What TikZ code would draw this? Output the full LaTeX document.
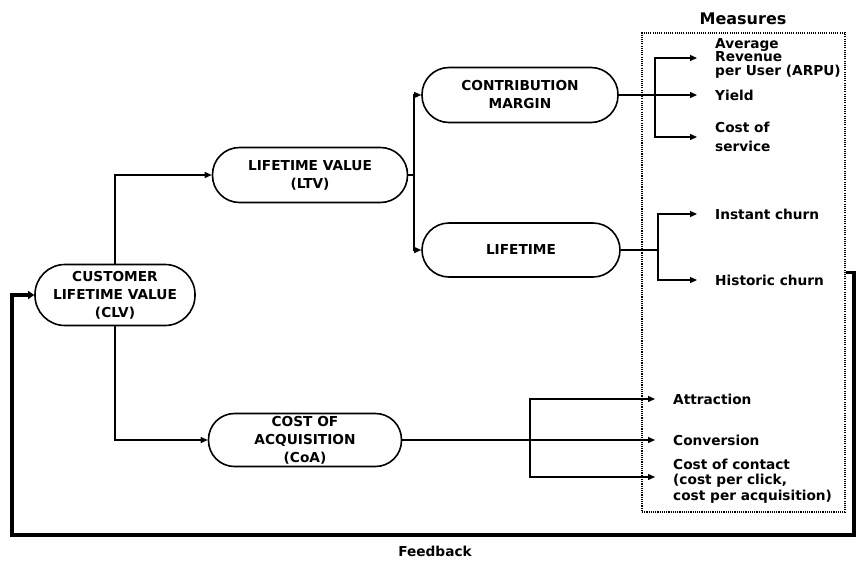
\documentclass[tikz,border=0pt]{standalone}
\usepackage{fontspec}
\setmainfont{DejaVu Sans}
\usetikzlibrary{arrows.meta}
\begin{document}
\begin{tikzpicture}[x=1pt,y=-1pt,
  pill/.style={draw, line width=1.6pt, align=center, inner sep=0pt,
    font=\bfseries\fontsize{13.7}{18}\selectfont},
  conn/.style={line width=1.3pt},
  arr/.style={conn, -{Triangle[length=7pt,width=6pt]}},
  meastext/.style={anchor=west, align=left, inner xsep=18pt, inner ysep=0pt,
    font=\bfseries\fontsize{13.7}{13.5}\selectfont},
  fb/.style={line width=3.4pt, -{Triangle[length=6pt,width=8pt]}}
]
\useasboundingbox (0,0) rectangle (856,560);

% main nodes
\node[pill, minimum width=160pt, minimum height=61pt, rounded corners=30pt] (clv) at (115,295) {CUSTOMER\\LIFETIME VALUE\\(CLV)};
\node[pill, minimum width=195pt, minimum height=55pt, rounded corners=27pt] (ltv) at (310,175) {LIFETIME VALUE\\(LTV)};
\node[pill, minimum width=193pt, minimum height=53pt, rounded corners=26pt] (coa) at (305,440) {COST OF\\ACQUISITION\\(CoA)};
\node[pill, minimum width=196pt, minimum height=55pt, rounded corners=27pt] (cm) at (520,95) {CONTRIBUTION\\MARGIN};
\node[pill, minimum width=198pt, minimum height=54pt, rounded corners=27pt] (life) at (521,250) {LIFETIME};

% measures box
\node[draw, line width=1.1pt, dash pattern=on 1.1pt off 1.1pt, minimum width=203pt, minimum height=479pt, inner sep=0pt] (meas) at (743.5,272.5) {};
\node[font=\bfseries\fontsize{16}{18}\selectfont] (meastitle) at (743,19) {Measures};

% measure texts
\node[meastext] (arpu) at (697,58) {Average\\Revenue\\per User (ARPU)};
\node[meastext] (yield) at (697,95) {Yield};
\node[meastext, font=\bfseries\fontsize{13.7}{18.5}\selectfont] (cos) at (697,137) {Cost of\\service};
\node[meastext] (instant) at (697,214) {Instant churn};
\node[meastext] (historic) at (697,280) {Historic churn};
\node[meastext] (attr) at (655,399) {Attraction};
\node[meastext] (conv) at (655,440) {Conversion};
\node[meastext, font=\bfseries\fontsize{13.7}{15.5}\selectfont] (coc) at (655,481) {Cost of contact\\(cost per click,\\cost per acquisition)};

% junctions
\coordinate (j1) at (655,95);
\coordinate (j2) at (658,250);
\coordinate (j3) at (530,440);
\coordinate (j4) at (414,175);

% CLV branches
\draw[arr] (clv.north) |- (ltv.west);
\draw[arr] (clv.south) |- (coa.west);

% LTV branches
\draw[conn] (ltv.east) -- (j4);
\draw[arr] (j4) |- (cm.west);
\draw[arr] (j4) |- (life.west);

% CM branches
\draw[arr] (cm.east) -- (yield.west);
\draw[arr] (j1) |- (arpu.west);
\draw[arr] (j1) |- (cos.west);

% Lifetime branches
\draw[conn] (life.east) -- (j2);
\draw[arr] (j2) |- (instant.west);
\draw[arr] (j2) |- (historic.west);

% CoA branches
\draw[arr] (coa.east) -- (conv.west);
\draw[arr] (j3) |- (attr.west);
\draw[arr] (j3) |- ([yshift=4pt]coc.west);

% feedback
\coordinate (fbr) at (854,535);
\coordinate (fbl) at (12,535);
\draw[fb] (meas.east) -| (fbr) -- (fbl) |- (clv.west);
\node[font=\bfseries\fontsize{13.7}{16}\selectfont] (fblabel) at (435,551) {Feedback};
\end{tikzpicture}
\end{document}
